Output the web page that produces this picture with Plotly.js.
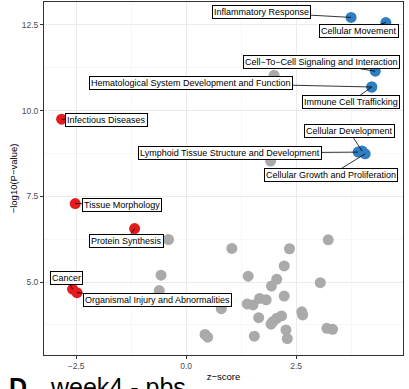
<!DOCTYPE html>
<html>
<head>
<meta charset="utf-8">
<script src="https://cdn.plot.ly/plotly-3.0.1.min.js"></script>
<style>html,body{margin:0;padding:0;background:#fff;}#chart{width:409px;height:389px;}</style>
</head>
<body>
<div id="chart"></div>
<script>
// ---- data ----
const grayZ = [2.00, 1.92, -0.40, 1.04, 2.35, 3.23, -0.57, 1.41, -0.61, 0.80, 0.43, 0.49, 1.39, 1.52, 1.67, 1.82, 1.94, 2.06, 2.23, 3.05, 2.23, 2.63, 2.65, 1.65, 2.17, 2.06, 1.97, 1.93, 2.27, 2.30, 1.55, 3.20, 3.33];
const grayP = [11.03, 8.53, 6.24, 5.98, 5.97, 6.23, 5.20, 5.17, 4.75, 4.22, 3.47, 3.39, 4.36, 4.33, 4.52, 4.48, 4.88, 5.08, 5.47, 4.98, 4.59, 4.13, 4.04, 3.96, 4.01, 3.94, 3.84, 3.77, 3.60, 3.35, 3.42, 3.65, 3.62];

const redTerms = ["Infectious Diseases", "Tissue Morphology", "Protein Synthesis", "Cancer", "Organismal Injury and Abnormalities"];
const redZ = [-2.83, -2.52, -1.17, -2.58, -2.48];
const redP = [9.75, 7.29, 6.56, 4.79, 4.69];

const blueTerms = ["Inflammatory Response", "Cellular Movement", "Cell−To−Cell Signaling and Interaction", "Hematological System Development and Function", "Immune Cell Trafficking", "Lymphoid Tissue Structure and Development", "Cellular Development", "Cellular Growth and Proliferation"];
const blueZ = [3.75, 4.54, 4.30, 4.22, 4.22, 3.91, 4.00, 4.07];
const blueP = [12.72, 12.57, 11.15, 10.69, 10.69, 8.79, 8.82, 8.74];

const xTickVals = [-2.5, 0.0, 2.5];
const yTickVals = [5.0, 7.5, 10.0, 12.5];

// ---- label placement (pixel offsets of label centre from its point) ----
const labelOffsets = {
  "Inflammatory Response": [-90, -5],
  "Cellular Movement": [-27, 8],
  "Cell−To−Cell Signaling and Interaction": [-54, -9],
  "Hematological System Development and Function": [-181, -4],
  "Immune Cell Trafficking": [-21, 15],
  "Lymphoid Tissue Structure and Development": [-128, 1],
  "Cellular Development": [-13, -20],
  "Cellular Growth and Proliferation": [-34, 21],
  "Infectious Diseases": [45, 1],
  "Tissue Morphology": [47, 1],
  "Protein Synthesis": [-8, 12],
  "Cancer": [-6, -11],
  "Organismal Injury and Abnormalities": [80, 7]
};

const RED = '#E41A1C', BLUE = '#2E7EC1', GRAY = '#AAAAAA';
const msize = 11;

const traces = [
  {type:'scatter', mode:'markers', x:grayZ, y:grayP, marker:{color:GRAY, size:msize}, hoverinfo:'skip'},
  {type:'scatter', mode:'markers', x:redZ, y:redP, text:redTerms, marker:{color:RED, size:msize}},
  {type:'scatter', mode:'markers', x:blueZ, y:blueP, text:blueTerms, marker:{color:BLUE, size:msize}}
];

const annotations = [];
function addLabels(terms, zs, ps) {
  terms.forEach((t, i) => {
    const off = labelOffsets[t];
    annotations.push({
      x: zs[i], y: ps[i], xref:'x', yref:'y',
      text: t, showarrow: true, arrowhead: 0, arrowwidth: 0.8, arrowcolor: '#000',
      ax: off[0], ay: off[1],
      font: {family:'Liberation Sans, Arial, sans-serif', size: 9, color:'#000'},
      bgcolor: '#fff', bordercolor: '#000', borderwidth: 1, borderpad: 1
    });
  });
}
addLabels(blueTerms, blueZ, blueP);
addLabels(redTerms, redZ, redP);

annotations.push({xref:'paper', yref:'paper', x:-0.103, y:-0.046, xanchor:'left', yanchor:'top', showarrow:false,
  text:'<b>D</b>', font:{family:'Liberation Sans, Arial, sans-serif', size:25, color:'#000'}});
annotations.push({xref:'paper', yref:'paper', x:0.011, y:-0.046, xanchor:'left', yanchor:'top', showarrow:false,
  text:'week4 - pbs', font:{family:'Liberation Sans, Arial, sans-serif', size:25, color:'#000'}});

const axisCommon = {
  showgrid:true, gridcolor:'#EBEBEB', gridwidth:1,
  zeroline:false, showline:true, mirror:true, linecolor:'#333333', linewidth:1,
  ticks:'outside', ticklen:3, tickcolor:'#333333', tickwidth:1,
  tickfont:{family:'Liberation Sans, Arial, sans-serif', size:8.5, color:'#4D4D4D'},
  tickformat:'.1f'
};

const layout = {
  width:409, height:389,
  margin:{l:44, r:6, t:2, b:34},
  paper_bgcolor:'#fff', plot_bgcolor:'#fff',
  showlegend:false,
  font:{family:'Liberation Sans, Arial, sans-serif'},
  xaxis: Object.assign({}, axisCommon, {
    range:[-3.23, 4.93], tickmode:'array', tickvals:xTickVals,
    minor:{tickmode:'linear', tick0:0, dtick:1.25, showgrid:true, gridcolor:'#F2F2F2', gridwidth:0.6, ticks:''},
    title:{text:'z−score', font:{size:9.5, color:'#000'}, standoff:3}
  }),
  yaxis: Object.assign({}, axisCommon, {
    range:[2.87, 13.17], tickmode:'array', tickvals:yTickVals,
    minor:{tickmode:'linear', tick0:0, dtick:1.25, showgrid:true, gridcolor:'#F2F2F2', gridwidth:0.6, ticks:''},
    title:{text:'−log10(P−value)', font:{size:9.5, color:'#000'}, standoff:2}
  }),
  annotations: annotations
};

Plotly.newPlot('chart', traces, layout, {displayModeBar:false, staticPlot:true});
</script>
</body>
</html>
